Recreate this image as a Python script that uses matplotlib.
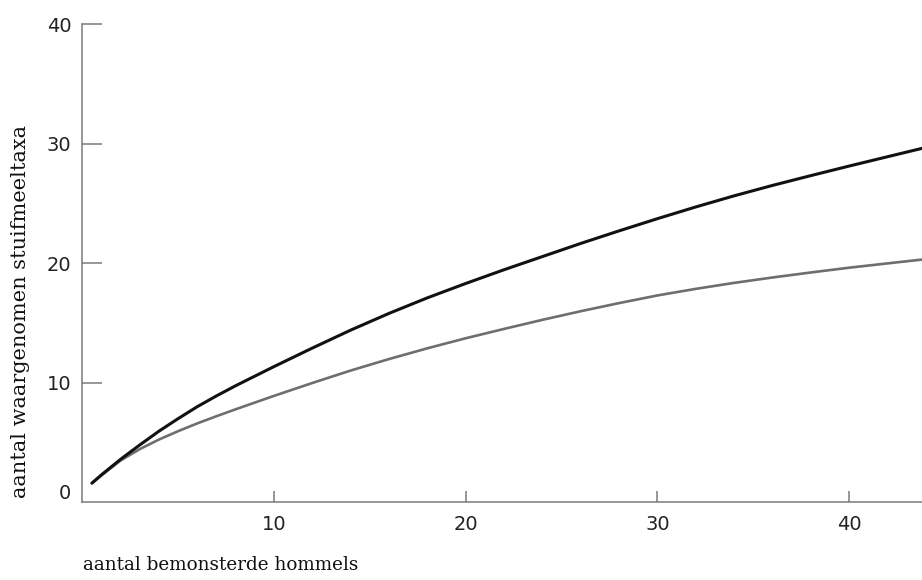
import matplotlib.pyplot as plt
import matplotlib.transforms as mtransforms

### data ###
hommels = [0.5, 1, 2, 3, 4, 5, 6, 7, 8, 9, 10, 12, 14, 16, 18, 20, 22, 24,
           26, 28, 30, 32, 34, 36, 38, 40, 42, 43.8]
taxa_zwart = [1.6, 2.3, 3.6, 4.8, 5.95, 7.0, 8.0, 8.9, 9.75, 10.55, 11.35,
              12.9, 14.4, 15.8, 17.1, 18.3, 19.45, 20.55, 21.65, 22.7, 23.72,
              24.7, 25.63, 26.5, 27.32, 28.12, 28.9, 29.6]
taxa_grijs = [1.6, 2.25, 3.5, 4.45, 5.25, 5.95, 6.6, 7.2, 7.78, 8.34, 8.9,
              9.98, 11.02, 11.98, 12.88, 13.72, 14.5, 15.26, 15.98, 16.66,
              17.3, 17.85, 18.35, 18.8, 19.22, 19.62, 19.98, 20.3]
x_ticks = [10, 20, 30, 40]
y_ticks = [0, 10, 20, 30, 40]
x_label = "aantal bemonsterde hommels"
y_label = "aantal waargenomen stuifmeeltaxa"

fig = plt.figure(figsize=(9.22, 5.8), dpi=100)
ax = fig.add_axes([82.3 / 922, 1 - 502.3 / 580, 1 - 82.3 / 922, (502.3 - 24) / 580])

ax.plot(hommels, taxa_grijs, color="#6e6e6e", lw=1.9, solid_capstyle="round")
ax.plot(hommels, taxa_zwart, color="#111111", lw=2.2, solid_capstyle="round")

ax.set_xlim(0, 43.8)
ax.set_ylim(0, 40)

### axes styling ###
for side in ["top", "right"]:
    ax.spines[side].set_visible(False)
for side in ["left", "bottom"]:
    ax.spines[side].set_color("#7a7a7a")
    ax.spines[side].set_linewidth(1.1)

ax.set_xticks(x_ticks)
ax.set_yticks(y_ticks)
ax.tick_params(axis="x", direction="in", length=8, width=1.1, color="#7a7a7a",
               pad=9, labelsize=14, labelcolor="#222222")
ax.tick_params(axis="y", direction="in", length=14.5, width=1.1, color="#7a7a7a",
               pad=8, labelsize=14, labelcolor="#222222")

# the 0 label sits a bit above the axis line
lbl0 = ax.get_yticklabels()[0]
lbl0.set_transform(lbl0.get_transform() +
                   mtransforms.ScaledTranslation(0, 8 / 72, fig.dpi_scale_trans))
ax.yaxis.get_major_ticks()[0].tick1line.set_visible(False)

fig.text(82.7 / 922, 1 - 565 / 580, x_label, family="DejaVu Serif",
         fontsize=13.2, color="#111111", ha="left", va="center")
fig.text(21 / 922, 1 - 312 / 580, y_label, family="DejaVu Serif",
         fontsize=15, color="#111111", ha="center", va="center", rotation=90)

fig.savefig("out.png", dpi=100)
